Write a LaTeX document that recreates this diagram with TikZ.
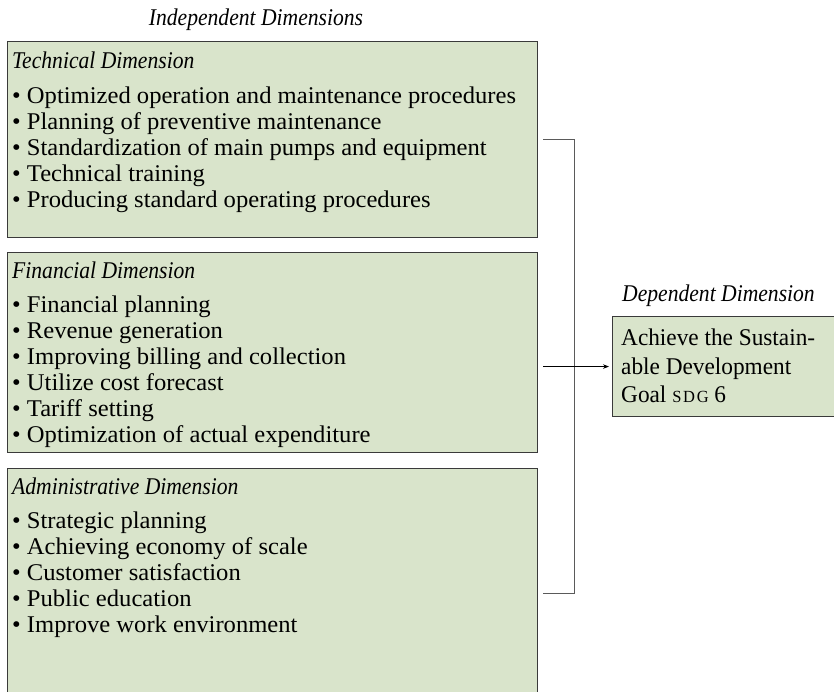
\documentclass[tikz,border=0pt]{standalone}
\usepackage{fontspec}
\setmainfont{Liberation Serif}[FakeStretch=1.025]
\newfontfamily\headfont{Liberation Serif}[FakeStretch=0.9]
\newfontfamily\goalfont{Liberation Serif}[FakeStretch=0.97]
\usetikzlibrary{arrows.meta}
\definecolor{boxfill}{HTML}{D9E4CB}
\definecolor{boxline}{HTML}{3A3A3A}
\definecolor{linkgray}{HTML}{5A5A5A}
\begin{document}
\begin{tikzpicture}[x=1pt,y=-1pt,
  dimbox/.style={draw=boxline, fill=boxfill, line width=1.1pt, inner sep=0pt, anchor=north west},
  txt/.style={anchor=base west, inner sep=0pt, font=\fontsize{24}{26}\selectfont},
  gtxt/.style={anchor=base west, inner sep=0pt, font=\goalfont\fontsize{24}{26}\selectfont},
  head/.style={anchor=base west, inner sep=0pt, font=\headfont\fontsize{24}{26}\selectfont\itshape},
  link/.style={draw=linkgray, line width=1.1pt},
  arr/.style={draw=black, line width=0.8pt, -{Stealth[length=6pt,width=4.5pt]}}]
\clip (0,0) rectangle (834,691);
\useasboundingbox (0,0) rectangle (834,691);

% headings
\node[head, anchor=base] (indep) at (256,25) {Independent Dimensions};
\node[head] (dep) at (622,301) {Dependent Dimension};

% boxes
\node[dimbox, minimum width=530pt, minimum height=196pt] (tech) at (7,41) {};
\node[dimbox, minimum width=530pt, minimum height=200pt] (fin) at (7,252) {};
\node[dimbox, minimum width=530pt, minimum height=250pt] (adm) at (7,468) {};
\node[dimbox, minimum width=240pt, minimum height=100pt] (goal) at (612,316) {};

% technical
\node[head] (tech-t) at (12,68) {Technical Dimension};
\foreach \t [count=\i] in {Optimized operation and maintenance procedures,
  Planning of preventive maintenance,
  Standardization of main pumps and equipment,
  Technical training,
  Producing standard operating procedures}
  \node[txt] (tech-\i) at (12,{103+26*(\i-1)}) {\textbullet\ \t};

% financial
\node[head] (fin-t) at (12,278) {Financial Dimension};
\foreach \t [count=\i] in {Financial planning,
  Revenue generation,
  Improving billing and collection,
  Utilize cost forecast,
  Tariff setting,
  Optimization of actual expenditure}
  \node[txt] (fin-\i) at (12,{312+26*(\i-1)}) {\textbullet\ \t};

% administrative
\node[head] (adm-t) at (12,494) {Administrative Dimension};
\foreach \t [count=\i] in {Strategic planning,
  Achieving economy of scale,
  Customer satisfaction,
  Public education,
  Improve work environment}
  \node[txt] (adm-\i) at (12,{528+26*(\i-1)}) {\textbullet\ \t};

% goal text
\node[gtxt] (goal-1) at (621,345) {Achieve the Sustain-};
\node[gtxt] (goal-2) at (621,374) {able Development};
\node[gtxt] (goal-3) at (621,402) {Goal {\fontsize{17}{17}\selectfont\addfontfeature{LetterSpace=10}SDG} 6};

% connectors
\coordinate (bt) at ([xshift=5pt]tech.east);
\coordinate (bb) at ([xshift=5pt]adm.east);
\draw[link] (bt) -- ++(31,0) coordinate (bv) |- (bb);
\draw[arr] (bt |- goal.west) -- ([xshift=-3pt]goal.west);
\end{tikzpicture}
\end{document}
